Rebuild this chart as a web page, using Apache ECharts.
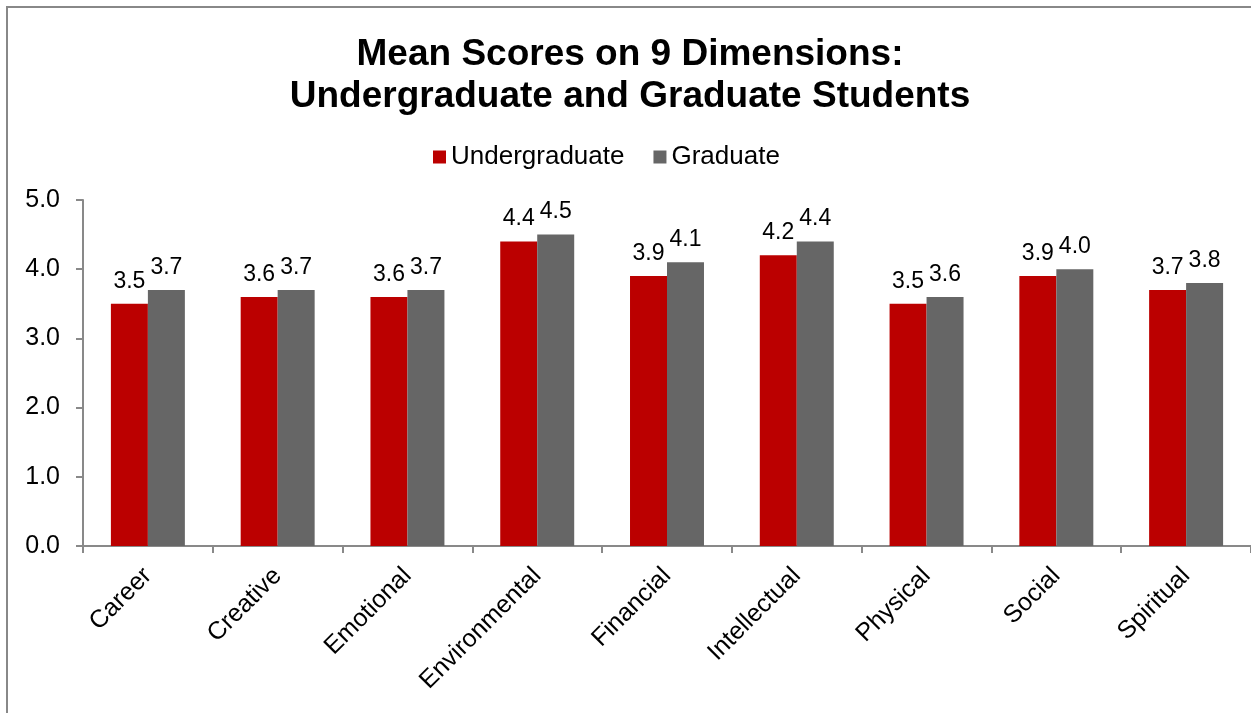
<!DOCTYPE html>
<html><head><meta charset="utf-8">
<script src="https://cdn.jsdelivr.net/npm/echarts@6/dist/echarts.min.js"></script>
<style>html,body{margin:0;padding:0;background:#fff}#c{width:1251px;height:713px}</style>
</head><body><div id="c"></div>
<script>
const categories = ["Career","Creative","Emotional","Environmental","Financial","Intellectual","Physical","Social","Spiritual"];
const undergraduate = [3.5,3.6,3.6,4.4,3.9,4.2,3.5,3.9,3.7];
const graduate = [3.7,3.7,3.7,4.5,4.1,4.4,3.6,4.0,3.8];
const yTicks = {min:0, max:5, interval:1};
const F = '"Liberation Sans", Arial, sans-serif';
const chart = echarts.init(document.getElementById('c'));
const lbl = {show:true, position:'top', distance:11, color:'#000', fontSize:23, fontFamily:F, formatter:p=>p.value.toFixed(1)};
chart.setOption({
  animation:false,
  graphic:[{type:'rect', shape:{x:7,y:7,width:1260,height:720}, style:{fill:'none', stroke:'#888', lineWidth:2}}],
  title:{text:'Mean Scores on 9 Dimensions:\nUndergraduate and Graduate Students', left:625, top:29, textAlign:'center',
    textStyle:{fontSize:37, fontWeight:'bold', fontFamily:F, color:'#000', lineHeight:42}},
  legend:{left:428, top:139, itemWidth:13, itemHeight:13, itemGap:29, icon:'rect',
    textStyle:{fontSize:26, fontFamily:F, color:'#000'},
    data:['Undergraduate','Graduate']},
  grid:{left:83, top:200, width:1170, height:346, containLabel:false},
  xAxis:{type:'category', data:categories,
    axisLine:{lineStyle:{color:'#898989', width:2}},
    axisTick:{show:true, length:7, lineStyle:{color:'#898989', width:2}},
    axisLabel:{rotate:45, margin:26, fontSize:25, fontFamily:F, color:'#000', interval:0}},
  yAxis:{type:'value', min:yTicks.min, max:yTicks.max, interval:yTicks.interval,
    splitLine:{show:false},
    axisLine:{show:true, lineStyle:{color:'#898989', width:2}},
    axisTick:{show:true, length:7, lineStyle:{color:'#898989', width:2}},
    axisLabel:{fontSize:25, fontFamily:F, color:'#000', margin:23, formatter:v=>v.toFixed(1)}},
  series:[
    {name:'Undergraduate', type:'bar', data:undergraduate, barGap:'0%', barCategoryGap:'43%', itemStyle:{color:'#BB0000'}, label:lbl},
    {name:'Graduate', type:'bar', data:graduate, barGap:'0%', barCategoryGap:'43%', itemStyle:{color:'#666666'}, label:lbl}
  ]
});
</script></body></html>
